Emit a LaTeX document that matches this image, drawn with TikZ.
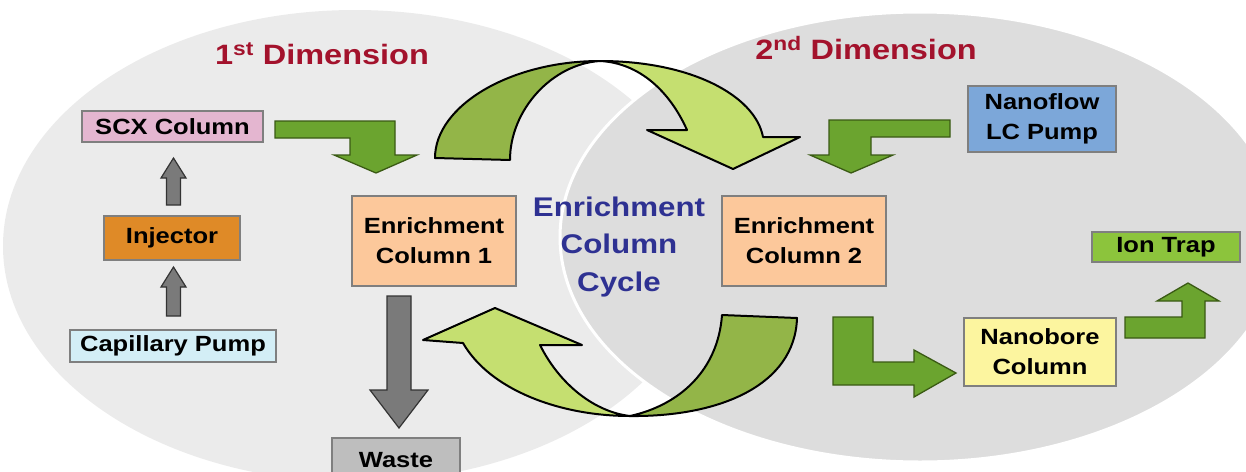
\documentclass[tikz,border=0pt]{standalone}
\usepackage{fontspec}
\setmainfont{Liberation Sans}[FakeStretch=1.16]
\definecolor{ellL}{HTML}{EBEBEB}
\definecolor{ellR}{HTML}{DDDDDD}
\definecolor{boxline}{HTML}{7F7F7F}
\definecolor{scxc}{HTML}{E4B6D0}
\definecolor{injc}{HTML}{DF8A27}
\definecolor{capc}{HTML}{D3EEF6}
\definecolor{enrc}{HTML}{FCC89B}
\definecolor{nanoc}{HTML}{7CA7D9}
\definecolor{ionc}{HTML}{8CC43C}
\definecolor{borec}{HTML}{FCF59F}
\definecolor{wastec}{HTML}{BEBEBE}
\definecolor{arrgreen}{HTML}{6BA42F}
\definecolor{arrline}{HTML}{3A5A14}
\definecolor{arrgray}{HTML}{7A7A7A}
\definecolor{cdark}{HTML}{93B548}
\definecolor{clight}{HTML}{C5DF70}
\definecolor{titred}{HTML}{A3122C}
\definecolor{cycblue}{HTML}{2E3192}
\begin{document}
\begin{tikzpicture}[x=1pt,y=-1pt,
  box/.style={draw=boxline, line width=1.8pt, inner sep=0pt, align=center,
    font=\fontsize{22}{30}\selectfont\bfseries, text=black},
  grn/.style={fill=arrgreen, draw=arrline, line width=1.3pt, line join=miter},
  gry/.style={fill=arrgray, draw=black!80, line width=1.2pt, line join=miter},
  curv/.style={draw=black, line width=2pt, line join=round},
  title/.style={font=\fontsize{28}{32}\selectfont\bfseries, text=titred, inner sep=0pt}]
\useasboundingbox (0,0) rectangle (1246,471);
\clip (0,0) rectangle (1246,471);
% ellipses
\fill[ellL] (355,246) ellipse [x radius=352, y radius=236];
\filldraw[fill=ellR, draw=white, line width=3pt] (920,237) ellipse [x radius=360, y radius=225];
% titles
\node[title] (t1) at (322,54) {1\textsuperscript{st} Dimension};
\node[title] (t2) at (866,48) {2\textsuperscript{nd} Dimension};
\node[font=\fontsize{27}{37.5}\selectfont\bfseries, text=cycblue, align=center, inner sep=0pt] (cyc) at (619,247) {Enrichment\\Column\\Cycle};
% boxes
\node[box, fill=scxc, minimum width=181pt, minimum height=31pt] (scx) at (172.5,126.5) {SCX Column};
\node[box, fill=injc, minimum width=136pt, minimum height=44pt] (inj) at (172,238) {Injector};
\node[box, fill=capc, minimum width=206pt, minimum height=32pt] (cap) at (173,346) {Capillary Pump};
\node[box, fill=enrc, minimum width=164pt, minimum height=90pt] (enr1) at (434,241) {Enrichment\\Column 1};
\node[box, fill=enrc, minimum width=164pt, minimum height=90pt] (enr2) at (804,241) {Enrichment\\Column 2};
\node[box, fill=nanoc, minimum width=148pt, minimum height=66pt] (nano) at (1042,119) {Nanoflow\\LC Pump};
\node[box, fill=ionc, minimum width=148pt, minimum height=30pt] (ion) at (1166,247) {Ion Trap};
\node[box, fill=borec, minimum width=152pt, minimum height=68pt] (bore) at (1040,352) {Nanobore\\Column};
\node[box, fill=wastec, minimum width=128pt, minimum height=44pt, text depth=0pt] (waste) at (396,460) {Waste};
% gray arrows
\draw[gry] (166.5,205) -- (180.5,205) -- (180.5,178) -- (186,178) -- (173.5,158) -- (161,178) -- (166.5,178) -- cycle;
\draw[gry] (166.5,316) -- (180.5,316) -- (180.5,287) -- (186,287) -- (173.5,267) -- (161,287) -- (166.5,287) -- cycle;
\draw[gry] (387,296) -- (411,296) -- (411,390) -- (428,390) -- (399,428) -- (370,390) -- (387,390) -- cycle;
% green bent arrows
\draw[grn] (275,121) -- (395,121) -- (395,155) -- (417,155) -- (376,173) -- (334,155) -- (350,155) -- (350,138) -- (275,138) -- cycle;
\draw[grn] (950,120) -- (829,120) -- (829,155) -- (810,155) -- (851,173) -- (893,155) -- (871,155) -- (871,137) -- (950,137) -- cycle;
\draw[grn] (833,317) -- (873,317) -- (873,362) -- (914,362) -- (914,350) -- (956,373) -- (914,397) -- (914,385) -- (833,385) -- cycle;
\draw[grn] (1125,317) -- (1182,317) -- (1182,301) -- (1157,301) -- (1188,283) -- (1219,301) -- (1205,301) -- (1205,338) -- (1125,338) -- cycle;
% curved arrows (top)
\draw[curv, fill=cdark] (435,158) .. controls (435,106) and (510,61) .. (600,61)
  .. controls (552,64) and (510,110) .. (510,160) -- cycle;
\draw[curv, fill=clight] (600,61) .. controls (690,61) and (755,95) .. (763,137)
  -- (800,137) -- (733,169) -- (647,130) -- (687,130)
  .. controls (670,92) and (640,63) .. (600,61) -- cycle;
% curved arrows (bottom)
\draw[curv, fill=cdark] (722,315) -- (797,318) .. controls (795,385) and (720,417) .. (630,416)
  .. controls (680,405) and (718,370) .. (722,315) -- cycle;
\draw[curv, fill=clight] (630,416) .. controls (560,416) and (490,390) .. (463,343)
  -- (423,340) -- (495,308) -- (582,345) -- (540,345)
  .. controls (560,385) and (595,412) .. (630,416) -- cycle;
\end{tikzpicture}
\end{document}
